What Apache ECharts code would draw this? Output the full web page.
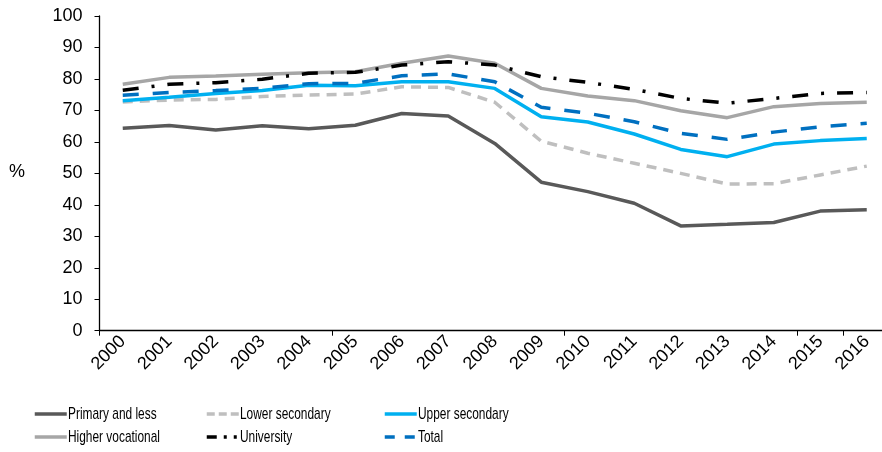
<!DOCTYPE html>
<html>
<head>
<meta charset="utf-8">
<script src="https://cdn.jsdelivr.net/npm/echarts@6/dist/echarts.min.js"></script>
<style>
  html, body { margin: 0; padding: 0; background: #fff; }
  #chart { width: 882px; height: 452px; }
</style>
</head>
<body>
<div id="chart"></div>
<script>
// Years on the category axis
const years = ['2000','2001','2002','2003','2004','2005','2006','2007','2008',
               '2009','2010','2011','2012','2013','2014','2015','2016'];

// Rates by level of education, %
const primaryAndLess   = [64.3, 65.2, 63.8, 65.1, 64.2, 65.3, 69.0, 68.2, 59.5, 47.2, 44.2, 40.5, 33.3, 33.8, 34.4, 38.0, 38.4];
const lowerSecondary   = [72.7, 73.3, 73.5, 74.4, 74.9, 75.2, 77.5, 77.3, 72.6, 60.2, 56.4, 53.2, 50.0, 46.6, 46.7, 49.5, 52.3];
const upperSecondary   = [73.1, 74.2, 75.4, 76.3, 78.0, 77.8, 79.1, 79.1, 77.0, 68.0, 66.3, 62.5, 57.6, 55.3, 59.3, 60.4, 61.1];
const higherVocational = [78.3, 80.5, 80.9, 81.5, 82.0, 82.3, 85.0, 87.3, 85.0, 77.0, 74.6, 73.1, 69.9, 67.7, 71.2, 72.2, 72.6];
const university       = [76.4, 78.3, 78.8, 79.9, 81.8, 82.1, 84.4, 85.5, 84.4, 80.7, 78.9, 76.7, 73.8, 72.3, 73.8, 75.4, 75.7];
const total            = [74.8, 75.7, 76.3, 77.0, 78.5, 78.6, 81.0, 81.6, 79.1, 71.0, 69.1, 66.4, 62.7, 60.8, 63.1, 64.8, 65.9];

// Value axis ticks
const yMin = 0, yMax = 100, yStep = 10;

const seriesDefs = [
  { name: 'Primary and less',  data: primaryAndLess,   color: '#595959', type: 'solid', keyType: 'solid' },
  { name: 'Lower secondary',   data: lowerSecondary,   color: '#BFBFBF', type: [10, 7],  keyType: [8, 4] },
  { name: 'Upper secondary',   data: upperSecondary,   color: '#00B0F0', type: 'solid', keyType: 'solid' },
  { name: 'Higher vocational', data: higherVocational, color: '#A6A6A6', type: 'solid', keyType: 'solid' },
  { name: 'University',        data: university,       color: '#000000', type: [16, 13, 3, 13], keyType: [10, 7, 3, 7, 3, 7] },
  { name: 'Total',             data: total,            color: '#0070C0', type: [16, 14], keyType: [10, 10] }
];

// Legend slots: three columns, two rows (icon left edge, row centre)
const legendPos = [
  { left: 33,  mid: 414 }, { left: 205, mid: 414 }, { left: 383, mid: 414 },
  { left: 33,  mid: 437 }, { left: 205, mid: 437 }, { left: 383, mid: 437 }
];
const ICON_W = 32;

const chart = echarts.init(document.getElementById('chart'), null, { renderer: 'canvas' });

// Legend keys come from the legend component; their captions are set in a
// narrow face by squeezing the text horizontally.
const legendCaptions = seriesDefs.map((s, i) => ({
  type: 'text',
  x: legendPos[i].left + ICON_W + 3,
  y: legendPos[i].mid,
  scaleX: 0.70,
  style: {
    text: s.name, fontSize: 17, fill: '#000',
    fontFamily: 'Liberation Sans, Arial, sans-serif',
    verticalAlign: 'middle', align: 'left'
  }
}));

const option = {
  animation: false,
  backgroundColor: '#ffffff',
  textStyle: { fontFamily: 'Liberation Sans, Arial, sans-serif' },
  grid: { left: 99.5, top: 16, width: 790.5, height: 314.7, outerBoundsMode: 'none', containLabel: false },
  graphic: [{
    type: 'text', left: 9, top: 163,
    style: { text: '%', fontSize: 18, fill: '#000', fontFamily: 'Liberation Sans, Arial, sans-serif' }
  }].concat(legendCaptions),
  legend: seriesDefs.map((s, i) => ({
    data: [s.name],
    left: legendPos[i].left,
    top: legendPos[i].mid - 2,
    itemWidth: ICON_W,
    itemHeight: 4,
    itemGap: 0,
    padding: 0,
    formatter: () => '',
    selectedMode: false,
    itemStyle: { opacity: 0 },
    lineStyle: { width: 3.5, color: s.color, type: s.keyType },
    textStyle: { fontSize: 1 }
  })),
  xAxis: {
    type: 'category',
    data: years,
    boundaryGap: true,
    axisLine: { lineStyle: { color: '#000', width: 1.3 } },
    axisTick: { show: true, interval: 4, length: 5, lineStyle: { color: '#000' } },
    axisLabel: { interval: 0, rotate: 45, fontSize: 18, color: '#000', margin: 8 },
    splitLine: { show: false }
  },
  yAxis: {
    type: 'value',
    min: yMin, max: yMax, interval: yStep,
    axisLine: { show: true, lineStyle: { color: '#000', width: 1.3 } },
    axisTick: { show: true, length: 5, lineStyle: { color: '#000' } },
    axisLabel: { fontSize: 18, color: '#000', margin: 17 },
    splitLine: { show: false }
  },
  series: seriesDefs.map(s => ({
    name: s.name,
    type: 'line',
    data: s.data,
    symbol: 'none',
    showSymbol: false,
    color: s.color,
    lineStyle: { color: s.color, width: 3.5, type: s.type },
    emphasis: { disabled: true }
  }))
};

chart.setOption(option);
</script>
</body>
</html>
